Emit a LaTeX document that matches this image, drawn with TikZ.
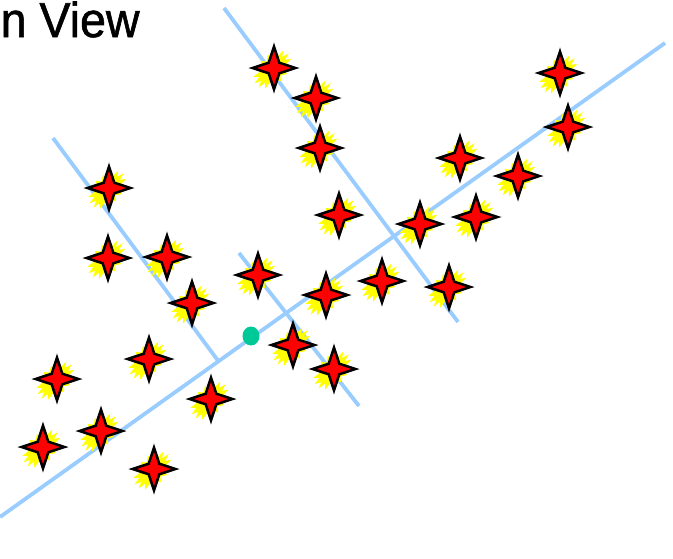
\documentclass[tikz,border=0pt]{standalone}
\usepackage{fontspec}
\setmainfont{Liberation Sans}
\newfontfamily\titlefont[FakeBold=1.2]{Liberation Sans}
\definecolor{lineblue}{RGB}{153,204,255}
\definecolor{dotgreen}{RGB}{0,200,150}
\definecolor{burst}{RGB}{255,255,0}
\tikzset{
  axisline/.style={draw=lineblue, line width=3.8pt},
  sparkle/.pic={
    \begin{scope}[shift={(-1.5,1.5)}, rotate=45, yscale=0.62]
      \fill[burst] (0:23) \foreach \a in {0,24,...,336} { -- (\a:23) -- (\a+12:16) } -- cycle;
    \end{scope}
    \draw[fill=red, line width=2.5pt, line join=miter]
      (0:21.5) -- (45:7.5) -- (90:21.5) -- (135:7.5) -- (180:21.5)
      -- (225:7.5) -- (270:21.5) -- (315:7.5) -- cycle;
  }
}
\begin{document}
\begin{tikzpicture}[x=1pt, y=-1pt]
\useasboundingbox[fill=white] (0,0) rectangle (673,558);
% lines
\coordinate (l1a) at (0,517);   \coordinate (l1b) at (665,43);
\coordinate (l2a) at (224,8);   \coordinate (l2b) at (458,322);
\coordinate (l3a) at (53,138);  \coordinate (l3b) at (219,362);
\coordinate (l4a) at (239,253); \coordinate (l4b) at (359,406);
\draw[axisline] (l1a) -- (l1b);
\draw[axisline] (l2a) -- (l2b);
\draw[axisline] (l3a) -- (l3b);
\draw[axisline] (l4a) -- (l4b);
% green dot
\fill[dotgreen] (251,336) ellipse [x radius=8.5, y radius=9.5];
% stars
\foreach \x/\y in {274/68, 316/98, 320/148, 560/73, 568/127, 460/158, 518/176,
  109/188, 339/215, 420/224, 476/217, 108/258, 167/257, 258/275, 382/281,
  326/295, 449/287, 192/303, 293/345, 149/359, 334/369, 57/379, 211/399,
  101/431, 43/447, 154/469}
  \pic at (\x,\y) {sparkle};
% title
\node[anchor=base west, inner sep=0pt, font=\titlefont\fontsize{49}{50}\selectfont, xscale=0.95] (title) at (0.5,37) {n View};
\end{tikzpicture}
\end{document}
